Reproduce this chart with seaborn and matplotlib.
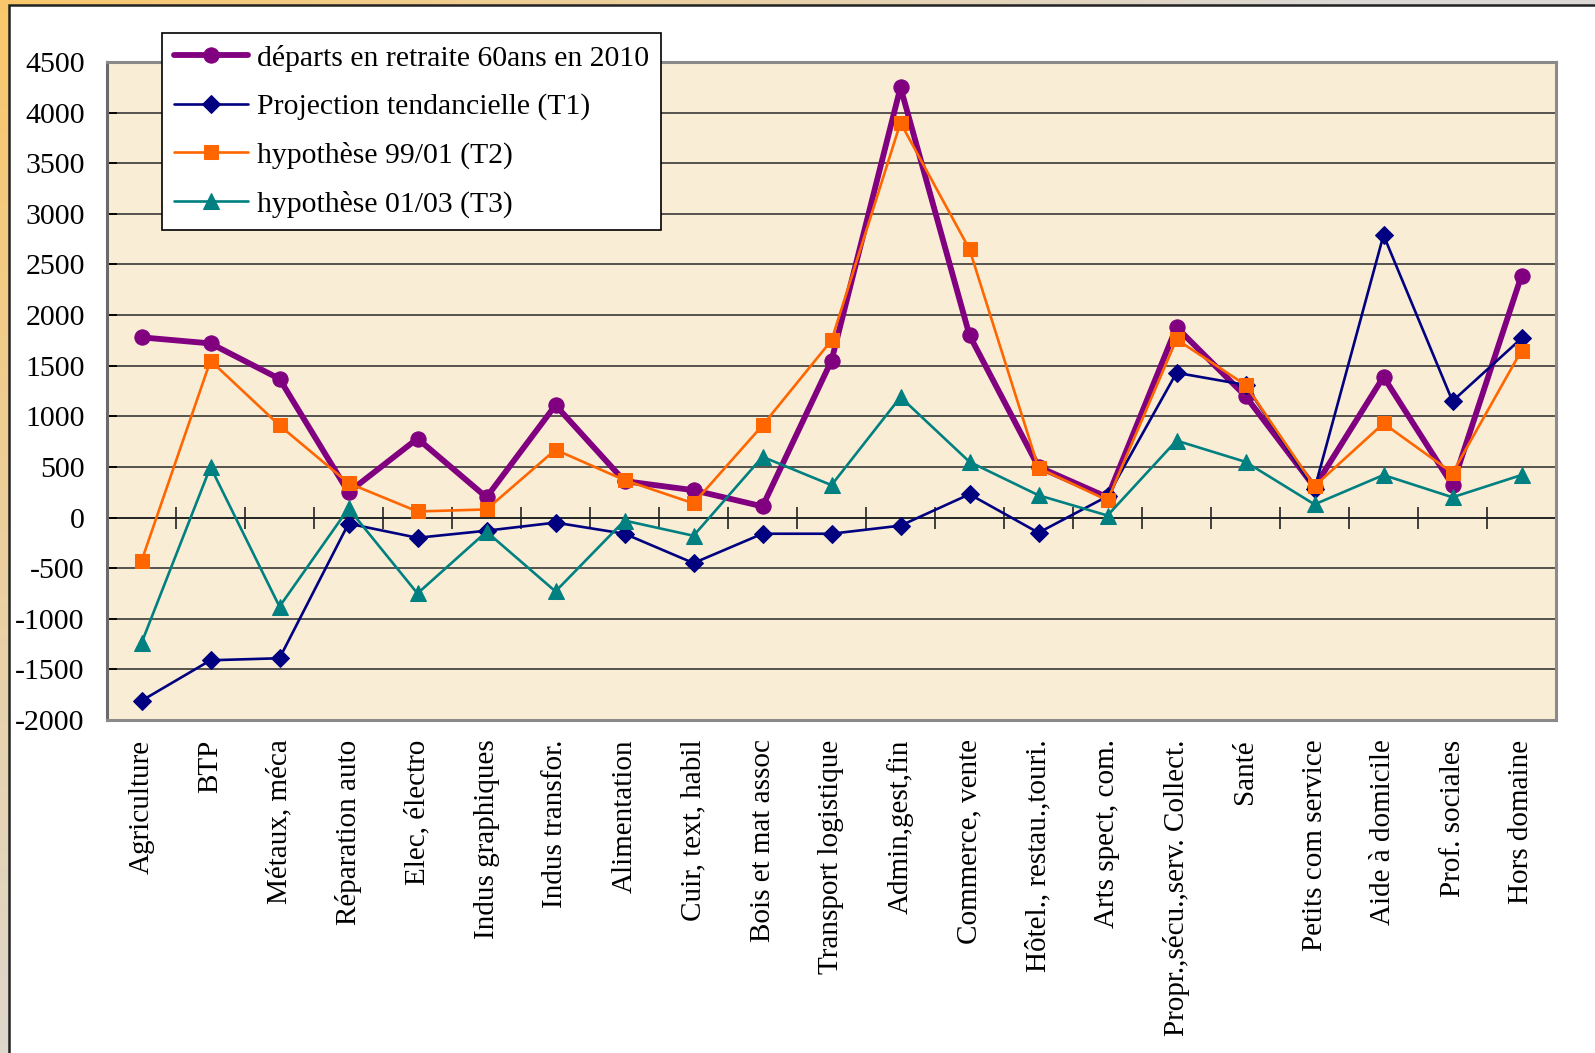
import numpy as np
import pandas as pd
import matplotlib
matplotlib.use("Agg")
import matplotlib.pyplot as plt
import seaborn as sns
from matplotlib.patches import Rectangle

# ---------------- data ----------------
categories = ["Agriculture", "BTP", "Métaux, méca", "Réparation auto", "Elec, électro",
              "Indus graphiques", "Indus transfor.", "Alimentation", "Cuir, text, habil",
              "Bois et mat assoc", "Transport logistique", "Admin,gest,fin", "Commerce, vente",
              "Hôtel., restau.,touri.", "Arts spect, com.", "Propr.,sécu.,serv. Collect.",
              "Santé", "Petits com service", "Aide à domicile", "Prof. sociales", "Hors domaine"]

departs = [1780, 1720, 1370, 250, 780, 200, 1110, 360, 270, 110, 1550, 4250, 1800,
           500, 200, 1880, 1200, 300, 1390, 320, 2390]
proj_t1 = [-1810, -1410, -1390, -60, -200, -130, -50, -160, -450, -160, -160, -80, 230,
           -150, 210, 1430, 1310, 280, 2790, 1150, 1770]
hyp_t2 = [-430, 1550, 910, 340, 60, 80, 670, 370, 140, 910, 1750, 3900, 2650,
          490, 170, 1760, 1310, 310, 930, 440, 1650]
hyp_t3 = [-1240, 500, -880, 90, -750, -140, -730, -30, -180, 600, 320, 1190, 550,
          220, 20, 760, 550, 130, 420, 200, 420]

series_names = ["départs en retraite 60ans en 2010", "Projection tendancielle (T1)",
                "hypothèse 99/01 (T2)", "hypothèse 01/03 (T3)"]
y_ticks = list(range(-2000, 4501, 500))

# ---------------- style ----------------
sns.set_theme(style="white")
SERIF = ["Liberation Serif", "DejaVu Serif"]
plt.rcParams["font.family"] = SERIF
plt.rcParams["axes.unicode_minus"] = False

W, H = 1595, 1053
fig = plt.figure(figsize=(W / 100, H / 100), dpi=100)

# decorative gradient background (orange top-left fading to grey)
bg = fig.add_axes([0, 0, 1, 1], zorder=-10)
yy, xx = np.mgrid[0:H:4, 0:W:4]
d = np.clip(np.sqrt((xx / W * 1.3) ** 2 + (yy / H) ** 2) / 1.1, 0, 1)
c0 = np.array([0.98, 0.78, 0.42])
c1 = np.array([0.86, 0.85, 0.84])
img = c0 + (c1 - c0) * d[..., None]
bg.imshow(img, aspect="auto", extent=[0, 1, 0, 1], origin="upper")
bg.axis("off")

fig.patches.append(Rectangle((9 / W, -0.02), 1.1, 1 - 5 / H + 0.02, transform=fig.transFigure,
                             facecolor="white", edgecolor="#222222", lw=1.8, zorder=-5))

ax = fig.add_axes([107 / W, 1 - 720 / H, (1556 - 107) / W, (720 - 62) / H])
ax.set_facecolor("#FAEDD6")

styles = [
    dict(color="#800080", marker="o", markersize=11, lw=4.2),
    dict(color="#000080", marker="D", markersize=9.5, lw=1.9),
    dict(color="#FF6600", marker="s", markersize=10.5, lw=1.9),
    dict(color="#008080", marker="^", markersize=12, lw=1.9),
]
all_values = [departs, proj_t1, hyp_t2, hyp_t3]

for name, vals, st in zip(series_names, all_values, styles):
    df = pd.DataFrame({"cat": categories, "val": vals})
    sns.lineplot(data=df, x="cat", y="val", ax=ax, sort=False, errorbar=None,
                 color=st["color"], marker=st["marker"], markersize=st["markersize"],
                 markeredgecolor=st["color"], markerfacecolor=st["color"],
                 linewidth=st["lw"], label=name)

ax.set_xlim(-0.5, len(categories) - 0.5)
ax.set_ylim(y_ticks[0], y_ticks[-1])
ax.set_yticks(y_ticks)
ax.set_yticklabels([str(v) for v in y_ticks], family=SERIF)
ax.set_xlabel("")
ax.set_ylabel("")
ax.yaxis.grid(True, color="#2a2a2a", lw=1.1)
ax.xaxis.grid(False)
ax.set_axisbelow(True)

ax.tick_params(axis="y", direction="in", length=7, width=1.3, color="black",
               pad=16, labelsize=21.5, labelcolor="black", left=True)
ax.tick_params(axis="x", length=0, pad=14, labelsize=21, labelcolor="black")
for lab in ax.get_xticklabels():
    lab.set_rotation(90)
    lab.set_ha("center")
    lab.set_va("top")
    lab.set_family(SERIF)

for side in ["top", "right", "bottom"]:
    ax.spines[side].set_color("#8a8a8a")
    ax.spines[side].set_linewidth(2.2)
    ax.spines[side].set_visible(True)
ax.spines["left"].set_color("#6a6a6a")
ax.spines["left"].set_linewidth(2.2)
ax.spines["left"].set_visible(True)

# category axis crossing at zero with boundary tick marks
zero_loc = (0 - y_ticks[0]) / (y_ticks[-1] - y_ticks[0])
sec = ax.secondary_xaxis(zero_loc)
sec.set_xticks(np.arange(-0.5, len(categories), 1.0))
sec.tick_params(direction="inout", length=16, width=1.2, color="#222222",
                labelbottom=False, labeltop=False)
for sp in sec.spines.values():
    sp.set_color("black")
    sp.set_linewidth(1.2)

leg = ax.legend(loc="upper left", bbox_to_anchor=(162 / W, 1 - 33 / H),
                bbox_transform=fig.transFigure, frameon=True, fancybox=False,
                edgecolor="black", facecolor="white", framealpha=1,
                prop={"family": SERIF, "size": 21.4},
                handlelength=2.5, handletextpad=0.3, borderpad=0.4,
                labelspacing=0.72, borderaxespad=0)
leg.get_frame().set_linewidth(1.2)
for t in leg.get_texts():
    t.set_color("black")

fig.savefig("out.png", dpi=100)
